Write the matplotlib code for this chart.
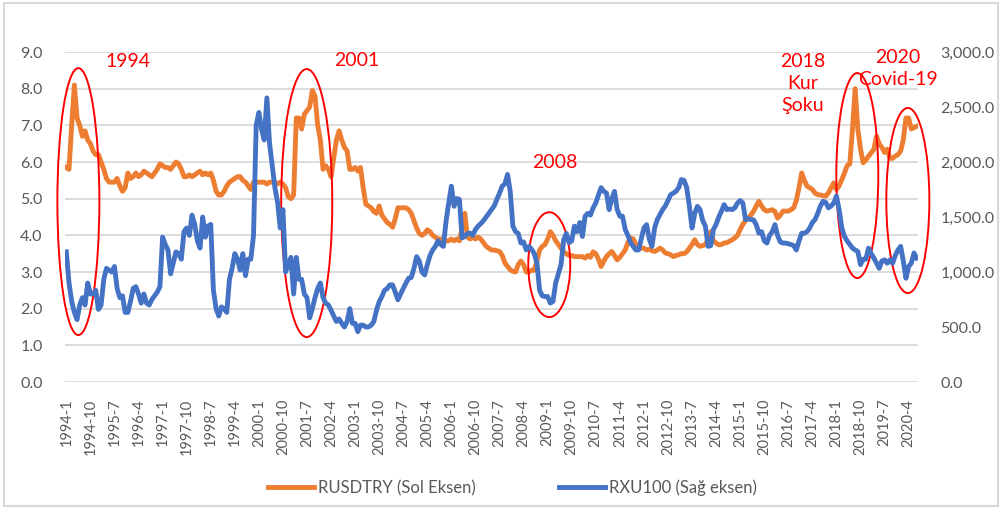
import matplotlib
matplotlib.use("Agg")
import matplotlib.pyplot as plt
from matplotlib.patches import Ellipse, Rectangle
import numpy as np

plt.rcParams['font.family'] = ['Lato', 'DejaVu Sans']

# monthly data, 1994-1 .. 2020-7
rusdtry = [
    5.85, 5.8, 7.0, 8.1, 7.2, 7.0, 6.7, 6.85, 6.6, 6.5, 6.3, 6.2,          # 1994
    6.2, 6.0, 5.8, 5.55, 5.45, 5.45, 5.45, 5.55, 5.35, 5.2, 5.3, 5.7,      # 1995
    5.55, 5.6, 5.7, 5.6, 5.65, 5.75, 5.7, 5.65, 5.6, 5.7, 5.8, 5.95,      # 1996
    5.9, 5.85, 5.85, 5.8, 5.9, 6.0, 5.95, 5.8, 5.6, 5.6, 5.65, 5.6,       # 1997
    5.65, 5.7, 5.75, 5.65, 5.7, 5.65, 5.7, 5.5, 5.2, 5.1, 5.1, 5.2,       # 1998
    5.35, 5.45, 5.5, 5.55, 5.6, 5.6, 5.5, 5.45, 5.35, 5.25, 5.45, 5.45,   # 1999
    5.45, 5.45, 5.45, 5.4, 5.45, 5.45, 5.45, 5.4, 5.45, 5.4, 5.3, 5.05,   # 2000
    5.0, 5.1, 7.2, 7.2, 6.9, 7.3, 7.4, 7.5, 7.95, 7.8, 7.0, 6.6,          # 2001
    5.8, 5.9, 5.8, 5.6, 6.1, 6.6, 6.85, 6.6, 6.4, 6.3, 5.8, 5.8,          # 2002
    5.85, 5.75, 5.85, 5.3, 4.85, 4.8, 4.75, 4.65, 4.6, 4.8, 4.55, 4.45,   # 2003
    4.35, 4.3, 4.22, 4.45, 4.75, 4.75, 4.75, 4.75, 4.7, 4.6, 4.4, 4.2,    # 2004
    4.05, 4.0, 4.05, 4.15, 4.1, 4.0, 3.95, 3.9, 3.9, 3.85, 3.85, 3.85,    # 2005
    3.9, 3.85, 3.9, 3.85, 4.2, 4.6, 3.95, 3.9, 3.95, 3.9, 3.95, 3.9,      # 2006
    3.8, 3.7, 3.65, 3.6, 3.6, 3.58, 3.56, 3.45, 3.25, 3.15, 3.06, 3.02,   # 2007
    3.0, 3.2, 3.3, 3.2, 3.0, 3.0, 3.05, 3.05, 3.3, 3.6, 3.7, 3.75,        # 2008
    3.9, 4.1, 4.0, 3.85, 3.75, 3.65, 3.55, 3.5, 3.45, 3.45, 3.42, 3.42,   # 2009
    3.42, 3.42, 3.38, 3.45, 3.4, 3.55, 3.5, 3.35, 3.15, 3.3, 3.42, 3.5,   # 2010
    3.56, 3.45, 3.33, 3.4, 3.5, 3.6, 3.8, 3.93, 3.9, 3.75, 3.7, 3.65,     # 2011
    3.65, 3.6, 3.62, 3.58, 3.56, 3.6, 3.65, 3.6, 3.52, 3.5, 3.47, 3.42,   # 2012
    3.45, 3.47, 3.5, 3.5, 3.55, 3.65, 3.75, 3.88, 3.75, 3.7, 3.72, 3.75,  # 2013
    3.9, 4.1, 3.85, 3.79, 3.74, 3.75, 3.79, 3.8, 3.84, 3.88, 3.93, 4.0,   # 2014
    4.16, 4.3, 4.4, 4.47, 4.55, 4.66, 4.8, 4.93, 4.8, 4.7, 4.66, 4.68,    # 2015
    4.7, 4.65, 4.47, 4.55, 4.66, 4.66, 4.66, 4.7, 4.75, 4.95, 5.3, 5.7,   # 2016
    5.5, 5.34, 5.3, 5.25, 5.15, 5.11, 5.1, 5.08, 5.07, 5.16, 5.3, 5.43,   # 2017
    5.25, 5.35, 5.52, 5.7, 5.9, 5.95, 6.9, 8.0, 6.9, 6.35, 5.98, 6.05,    # 2018
    6.16, 6.25, 6.35, 6.7, 6.5, 6.4, 6.26, 6.35, 6.1, 6.1, 6.16, 6.2,     # 2019
    6.3, 6.6, 7.2, 7.2, 6.9, 6.94, 6.97,                                  # 2020
]

rxu100 = [
    1183, 900, 733, 633, 567, 700, 767, 700, 900, 800, 800, 833,
    660, 700, 933, 1033, 1017, 1000, 1050, 850, 767, 783, 633, 633,
    733, 850, 867, 800, 717, 800, 717, 700, 750, 783, 817, 867,
    1317, 1250, 1200, 983, 1083, 1183, 1167, 1117, 1367, 1400, 1333, 1517,
    1433, 1283, 1217, 1500, 1317, 1417, 1433, 833, 667, 600, 683, 667,
    633, 933, 1033, 1167, 1117, 1017, 1167, 967, 1117, 1117, 1333, 2333,
    2450, 2300, 2200, 2583, 2167, 1967, 1767, 1633, 1400, 1567, 1000, 1067,
    1133, 800, 1133, 933, 933, 800, 767, 583, 667, 767, 850, 900,
    767, 717, 700, 653, 600, 550, 573, 533, 500, 550, 667, 533,
    533, 457, 517, 517, 500, 500, 517, 550, 653, 730, 777, 833,
    850, 883, 883, 817, 747, 800, 850, 900, 943, 950, 1033, 1140,
    1100, 1000, 973, 1067, 1150, 1200, 1233, 1283, 1250, 1233, 1460, 1627,
    1780, 1597, 1667, 1660, 1310, 1323, 1350, 1353, 1333, 1387, 1417, 1440,
    1467, 1500, 1533, 1567, 1600, 1660, 1717, 1780, 1800, 1887, 1733, 1417,
    1367, 1350, 1263, 1273, 1200, 1233, 1207, 1167, 1080, 833, 783, 777,
    777, 717, 733, 900, 983, 1067, 1293, 1350, 1267, 1283, 1417, 1367,
    1450, 1323, 1507, 1533, 1517, 1583, 1627, 1700, 1767, 1733, 1717, 1567,
    1667, 1733, 1567, 1507, 1507, 1387, 1333, 1267, 1233, 1200, 1200, 1300,
    1400, 1430, 1300, 1233, 1400, 1477, 1523, 1567, 1600, 1650, 1703, 1717,
    1733, 1767, 1840, 1833, 1767, 1597, 1400, 1533, 1597, 1567, 1467, 1417,
    1233, 1240, 1387, 1433, 1500, 1553, 1613, 1567, 1573, 1567, 1583, 1627,
    1650, 1627, 1477, 1483, 1477, 1473, 1430, 1353, 1367, 1283, 1263, 1333,
    1367, 1430, 1333, 1273, 1263, 1263, 1257, 1250, 1240, 1200, 1283, 1353,
    1353, 1367, 1400, 1450, 1477, 1533, 1600, 1643, 1633, 1583, 1600, 1627,
    1690, 1567, 1400, 1323, 1283, 1250, 1217, 1200, 1187, 1067, 1117, 1117,
    1217, 1167, 1127, 1080, 1033, 1100, 1110, 1080, 1110, 1080, 1150, 1200,
    1233, 1100, 943, 1050, 1080, 1173, 1127,
]

start_year = 1994
labels = ["%d-%d" % (start_year + k // 12, k % 12 + 1) for k in range(len(rusdtry))]

# highlighted episodes: (label, text x idx, text y, ellipse centre idx, centre y, width, height)
events = [
    ("1994", 23, 8.73, 4.5, 4.92, 15.7, 7.28),
    ("2001", 108.5, 8.78, 89.9, 4.88, 19.1, 7.31),
    ("2008", 182.5, 6.0, 180.6, 3.2, 15.7, 2.86),
    ("2018\nKur\nŞoku", 275.5, 8.15, 295.8, 5.63, 15.7, 5.59),
    ("2020\nCovid-19", 311, 8.55, 314.7, 4.95, 16.1, 5.05),
]

orange = '#ED7D31'
blue = '#4472C4'
grey = '#595959'

fig = plt.figure(figsize=(10.02, 5.09), dpi=100)
ax = fig.add_axes([65/1002, 1 - 382/509, 853/1002, 330/509])
ax2 = ax.twinx()

x = np.arange(len(rusdtry))
l1, = ax.plot(x, rusdtry, color=orange, lw=3.5, solid_joinstyle='round', zorder=3)
l2, = ax2.plot(x, rxu100, color=blue, lw=3.5, solid_joinstyle='round', zorder=3)

ax.set_xlim(-0.5, len(rusdtry) - 0.5)
ax.set_ylim(0, 9)
ax2.set_ylim(0, 3000)
ax.set_yticks(np.arange(0, 9.1, 1))
ax2.set_yticks(np.arange(0, 3001, 500))
ax.set_yticklabels(["%.1f" % v for v in np.arange(0, 9.1, 1)])
ax2.set_yticklabels(["{:,.1f}".format(v) for v in np.arange(0, 3001, 500)])
ax.set_xticks(x[::9])
ax.set_xticklabels(labels[::9], rotation=90, va='top', ha='center')

ax.grid(axis='y', color='#d9d9d9', lw=1.3)
ax.set_axisbelow(True)
for a in (ax, ax2):
    for s in a.spines.values():
        s.set_visible(False)
ax.tick_params(axis='y', length=0, pad=16, labelsize=11.5, labelcolor=grey)
ax2.tick_params(axis='y', length=0, pad=16, labelsize=11.5, labelcolor=grey)
ax.tick_params(axis='x', length=0, pad=12, labelsize=10.5, labelcolor=grey)

for txt, tx, ty, ex, ey, ew, eh in events:
    ax.text(tx, ty, txt, color='red', fontsize=14, ha='center', va='center',
            linespacing=1.35, zorder=5, clip_on=False)
    ax.add_patch(Ellipse((ex, ey), ew, eh, fill=False, ec='red', lw=1.4,
                         zorder=6, clip_on=False))

fig.legend([l1, l2], ['RUSDTRY (Sol Eksen)', 'RXU100 (Sağ eksen)'],
           loc='center', bbox_to_anchor=(512/1002, 1 - 488/509), ncol=2,
           frameon=False, fontsize=12, handlelength=2.8, handletextpad=0.2,
           columnspacing=5.0, labelcolor=grey)

fig.patches.append(Rectangle((4/1002, 3/509), 994/1002, 503/509, transform=fig.transFigure,
                             fill=False, ec='#d9d9d9', lw=1.5))

fig.savefig('out.png', dpi=100)
